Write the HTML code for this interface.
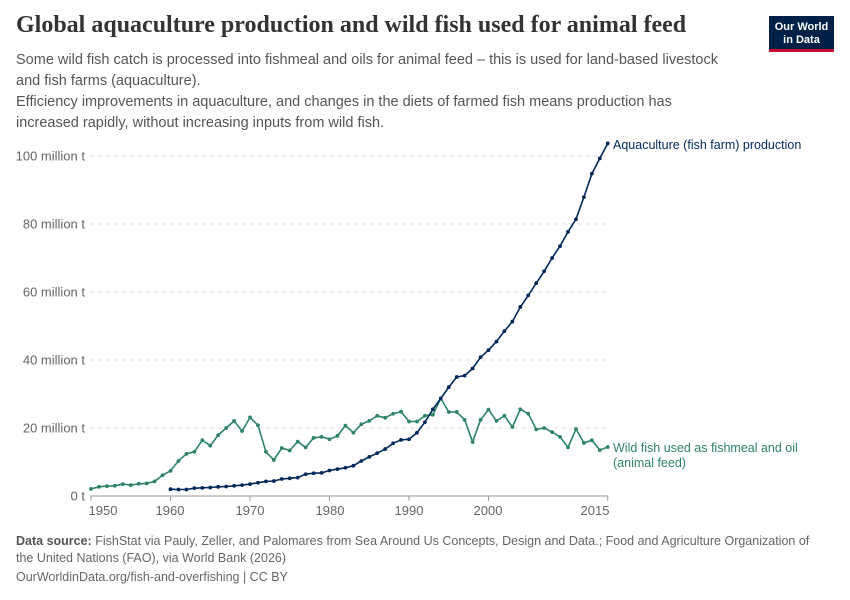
<!DOCTYPE html>
<html><head><meta charset="utf-8"><style>
body{margin:0;background:#fff;width:850px;height:600px;overflow:hidden;font-family:"Liberation Sans",sans-serif}
.t{position:absolute;left:16px;top:12px;font-family:"Liberation Serif",serif;font-weight:bold;font-size:24px;color:#333}
.s{position:absolute;left:16px;top:50px;font-size:14.5px;line-height:21px;color:#555;width:722px}
.logo{position:absolute;left:769px;top:16px;width:65px;height:36px;background:#002147;color:#fff;font-size:11px;font-weight:bold;text-align:center;line-height:12.5px;box-sizing:border-box;padding-top:5px;border-bottom:3px solid #c8102e}
.f{position:absolute;left:16px;font-size:12.5px;color:#666;line-height:17px}
</style></head><body>
<div class="t">Global aquaculture production and wild fish used for animal feed</div>
<div class="s">Some wild fish catch is processed into fishmeal and oils for animal feed – this is used for land-based livestock and fish farms (aquaculture).<br>Efficiency improvements in aquaculture, and changes in the diets of farmed fish means production has increased rapidly, without increasing inputs from wild fish.</div>
<div class="logo">Our World<br>in Data</div>
<svg id="c" width="850" height="600" style="position:absolute;left:0;top:0" font-family="Liberation Sans, sans-serif"></svg>
<div class="f" style="top:533px;width:800px"><b style="color:#555">Data source:</b> FishStat via Pauly, Zeller, and Palomares from Sea Around Us Concepts, Design and Data.; Food and Agriculture Organization of the United Nations (FAO), via World Bank (2026)</div>
<div class="f" style="top:569px">OurWorldinData.org/fish-and-overfishing | CC BY</div>
<script>
var g=[2.1,2.7,2.9,3.0,3.5,3.2,3.6,3.7,4.3,6.1,7.4,10.3,12.4,13.0,16.4,14.8,17.9,20,22.1,19.1,23.1,20.8,13.0,10.6,14.1,13.4,16.0,14.3,17.1,17.4,16.7,17.7,20.7,18.6,21.1,22.1,23.6,23.0,24.2,24.8,21.9,21.9,23.6,23.9,28.7,24.7,24.7,22.4,15.9,22.4,25.4,22.1,23.6,20.3,25.5,24.2,19.6,20,18.8,17.4,14.3,19.7,15.6,16.4,13.5,14.4];
var a=[2.0,1.9,1.9,2.3,2.4,2.5,2.7,2.8,3.0,3.2,3.5,3.9,4.3,4.4,5.0,5.2,5.4,6.4,6.7,6.8,7.5,7.9,8.3,8.9,10.3,11.5,12.6,13.8,15.5,16.5,16.7,18.6,21.7,25.5,28.7,32.0,35.0,35.4,37.5,40.8,42.9,45.4,48.5,51.3,55.6,59.0,62.6,66.1,70.0,73.5,77.7,81.4,87.9,94.8,99.3,103.7];
function X(y){return 91+7.95*(y-1950)}function Y(v){return 496-3.4*v}
var s='';
[20,40,60,80,100].forEach(function(v){s+='<line x1="90" x2="608" y1="'+Y(v)+'" y2="'+Y(v)+'" stroke="#ddd" stroke-dasharray="4,4"/>';s+='<text x="85" y="'+(Y(v)+4.5)+'" text-anchor="end" font-size="13" fill="#666">'+v+' million t</text>'});
s+='<text x="85" y="500.5" text-anchor="end" font-size="13" fill="#666">0 t</text>';
s+='<line x1="90" x2="608" y1="496" y2="496" stroke="#999"/>';
[[1950,'1950',103],[1960,'1960',170],[1970,'1970',250],[1980,'1980',330],[1990,'1990',409],[2000,'2000',488],[2015,'2015',595]].forEach(function(t){var x=X(t[0]);s+='<line x1="'+x+'" x2="'+x+'" y1="496" y2="501" stroke="#999"/><text x="'+t[2]+'" y="515" text-anchor="middle" font-size="13" fill="#666">'+t[1]+'</text>'});
function ser(d,y0,c){var p=d.map(function(v,i){return X(y0+i).toFixed(1)+','+Y(v).toFixed(1)}).join(' ');var r='<polyline points="'+p+'" fill="none" stroke="'+c+'" stroke-width="1.6"/>';d.forEach(function(v,i){r+='<circle cx="'+X(y0+i)+'" cy="'+Y(v)+'" r="1.9" fill="'+c+'"/>'});return r}
s+=ser(g,1950,'#2c8465');s+=ser(a,1960,'#00295b');
s+='<text x="613" y="149" font-size="12.5" fill="#00295b">Aquaculture (fish farm) production</text>';
s+='<text x="613" y="452" font-size="12.5" fill="#2c8465">Wild fish used as fishmeal and oil</text><text x="613" y="467" font-size="12.5" fill="#2c8465">(animal feed)</text>';
document.getElementById('c').innerHTML=s;
</script>
</body></html>
